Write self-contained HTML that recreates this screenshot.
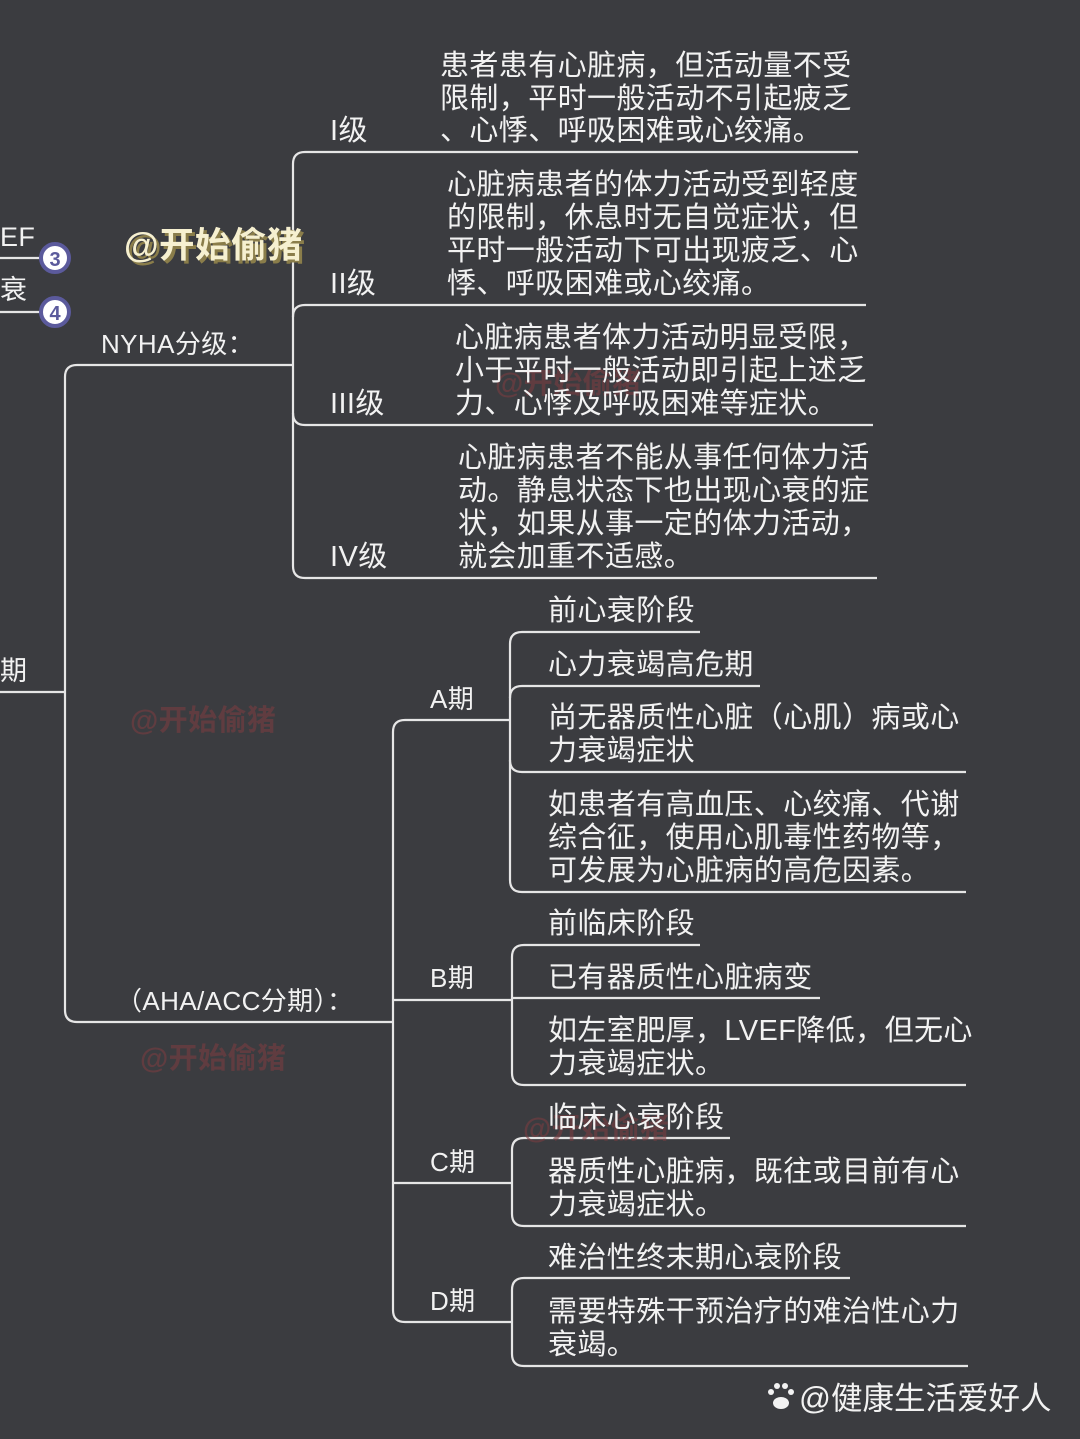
<!DOCTYPE html>
<html><head><meta charset="utf-8"><style>
html,body{margin:0;padding:0;background:#3b3c40;}
svg{display:block}
text{font-family:"Liberation Sans","Noto Sans CJK SC",sans-serif;fill:#f2f2f2;font-size:29px;letter-spacing:0.4px}
</style></head><body>
<svg width="1080" height="1439" viewBox="0 0 1080 1439" xmlns="http://www.w3.org/2000/svg">
<rect width="1080" height="1439" fill="#3b3c40"/>
<g fill="none" stroke="#e6e6e6" stroke-width="2.2">
<path d="M0 258H42"/><path d="M0 312H42"/>
<path d="M0 692H65"/>
<path d="M293 365H77Q65 365 65 377V1010Q65 1022 77 1022H393"/>
<path d="M858 152H305Q293 152 293 164V566Q293 578 305 578H877"/>
<path d="M866 305H305Q293 305 293 317"/>
<path d="M873 425H305Q293 425 293 413"/>
<path d="M510 720H405Q393 720 393 732V1310Q393 1322 405 1322H512"/>
<path d="M393 1000H512"/><path d="M393 1183H512"/>
<path d="M700 632H522Q510 632 510 644V880Q510 892 522 892H966"/>
<path d="M760 686H522Q510 686 510 698"/>
<path d="M966 772H522Q510 772 510 760"/>
<path d="M700 945H524Q512 945 512 957V1073Q512 1085 524 1085H966"/>
<path d="M820 998H512"/>
<path d="M730 1138H524Q512 1138 512 1150V1214Q512 1226 524 1226H966"/>
<path d="M850 1278H524Q512 1278 512 1290V1354Q512 1366 524 1366H968"/>
</g>
<circle cx="55" cy="258" r="14" fill="#fff" stroke="#5b5a9c" stroke-width="4"/>
<text x="55" y="266" text-anchor="middle" style="font-size:20px;font-weight:bold;fill:#5b5a9c;letter-spacing:0">3</text>
<circle cx="55" cy="312" r="14" fill="#fff" stroke="#5b5a9c" stroke-width="4"/>
<text x="55" y="320" text-anchor="middle" style="font-size:20px;font-weight:bold;fill:#5b5a9c;letter-spacing:0">4</text>
<text x="0" y="246" style="font-size:27px">EF</text>
<text x="0" y="299" style="font-size:27px">衰</text>
<text x="0" y="680" style="font-size:27px">期</text>
<text x="127" y="260" style="font-size:35.5px;font-weight:bold;fill:#8a7d4a">@开始偷猪</text>
<text x="124" y="257" style="font-size:35.5px;font-weight:bold;fill:#f6f0d0">@开始偷猪</text>
<g style="font-size:32px;font-weight:bold" opacity="0.6">
<text x="130" y="730" style="fill:#7a3c40">@开始偷猪</text>
<text x="140" y="1068" style="fill:#7a3c40">@开始偷猪</text>
<text x="495" y="393" style="fill:#7a3c40">@开始偷猪</text>
<text x="523" y="1138" style="fill:#7a3c40">@开始偷猪</text>
</g>
<text x="101" y="353" style="font-size:26px">NYHA分级：</text>
<text x="116" y="1010" style="font-size:26px">（AHA/ACC分期）：</text>
<text x="330" y="140">I级</text>
<text x="330" y="293">II级</text>
<text x="330" y="413">III级</text>
<text x="330" y="566">IV级</text>
<text x="440" y="75">患者患有心脏病，但活动量不受</text>
<text x="440" y="108">限制，平时一般活动不引起疲乏</text>
<text x="440" y="140">、心悸、呼吸困难或心绞痛。</text>
<text x="447" y="194">心脏病患者的体力活动受到轻度</text>
<text x="447" y="227">的限制，休息时无自觉症状，但</text>
<text x="447" y="260">平时一般活动下可出现疲乏、心</text>
<text x="447" y="293">悸、呼吸困难或心绞痛。</text>
<text x="455" y="347">心脏病患者体力活动明显受限，</text>
<text x="455" y="380">小于平时一般活动即引起上述乏</text>
<text x="455" y="413">力、心悸及呼吸困难等症状。</text>
<text x="458" y="467">心脏病患者不能从事任何体力活</text>
<text x="458" y="500">动。静息状态下也出现心衰的症</text>
<text x="458" y="533">状，如果从事一定的体力活动，</text>
<text x="458" y="566">就会加重不适感。</text>
<text x="430" y="708" style="font-size:26px">A期</text>
<text x="430" y="987" style="font-size:26px">B期</text>
<text x="430" y="1171" style="font-size:26px">C期</text>
<text x="430" y="1310" style="font-size:26px">D期</text>
<text x="548" y="620">前心衰阶段</text>
<text x="548" y="674">心力衰竭高危期</text>
<text x="548" y="727">尚无器质性心脏（心肌）病或心</text>
<text x="548" y="760">力衰竭症状</text>
<text x="548" y="814">如患者有高血压、心绞痛、代谢</text>
<text x="548" y="847">综合征，使用心肌毒性药物等，</text>
<text x="548" y="880">可发展为心脏病的高危因素。</text>
<text x="548" y="933">前临床阶段</text>
<text x="548" y="987">已有器质性心脏病变</text>
<text x="548" y="1040">如左室肥厚，LVEF降低，但无心</text>
<text x="548" y="1073">力衰竭症状。</text>
<text x="548" y="1127">临床心衰阶段</text>
<text x="548" y="1181">器质性心脏病，既往或目前有心</text>
<text x="548" y="1214">力衰竭症状。</text>
<text x="548" y="1267">难治性终末期心衰阶段</text>
<text x="548" y="1321">需要特殊干预治疗的难治性心力</text>
<text x="548" y="1354">衰竭。</text>
<g fill="#f2f2f2">
<ellipse cx="781" cy="1403" rx="8" ry="6"/>
<circle cx="771" cy="1392" r="3"/><circle cx="777" cy="1386" r="3"/><circle cx="785" cy="1386" r="3"/><circle cx="791" cy="1392" r="3"/>
</g>
<text x="799" y="1409" style="font-size:31.5px;letter-spacing:0">@健康生活爱好人</text>
</svg>
</body></html>
